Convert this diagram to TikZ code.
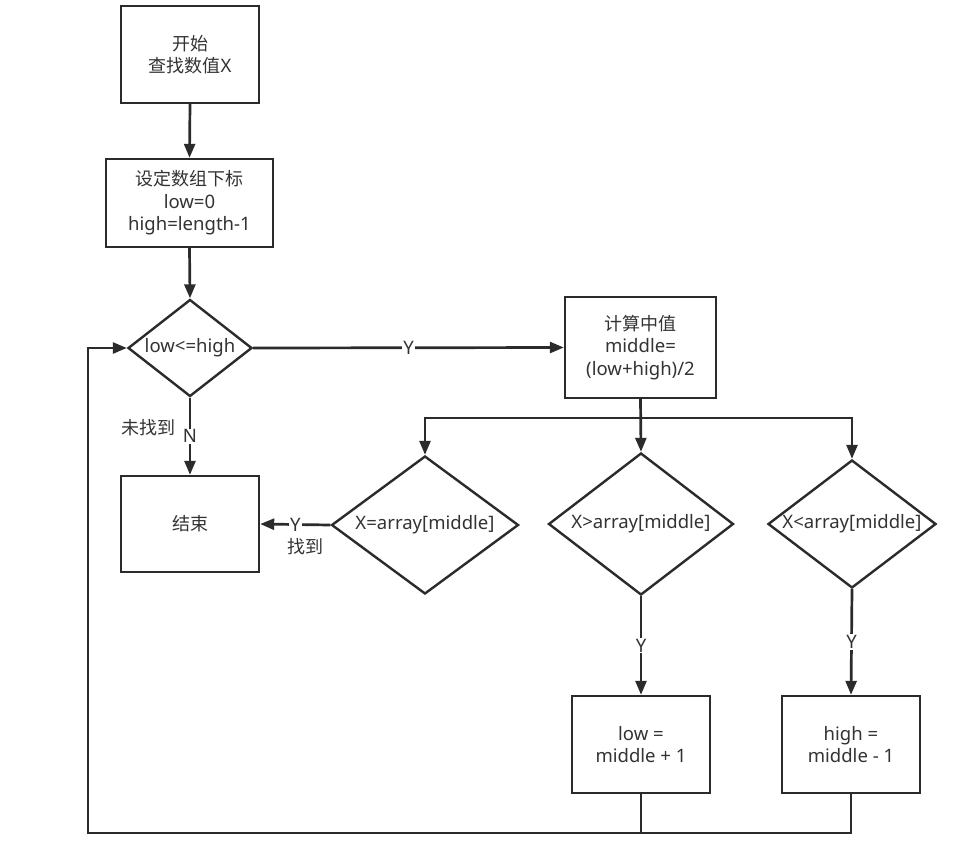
\documentclass[tikz,border=0pt]{standalone}
\usepackage{fontspec}
\setmainfont{Noto Sans}[Scale=1.03]
\newfontfamily\cjk{Noto Sans CJK SC}
\usetikzlibrary{shapes.geometric,arrows.meta}
\definecolor{ink}{HTML}{2B2B2B}
\definecolor{txt}{HTML}{333333}
\tikzset{
  fnt/.style={font=\fontsize{18}{22.5}\selectfont},
  cjkfnt/.style={font={\fontsize{18}{22.5}\selectfont\cjk}},
  box/.style={draw=ink,line width=2.4pt,fill=white,rectangle,inner sep=0pt,align=center,text=txt,fnt},
  dia/.style={draw=ink,line width=2.4pt,fill=white,diamond,inner sep=0pt,aspect=1,text=txt,fnt},
  conn/.style={draw=ink,line width=2.7pt},
  arr/.style={conn,-{Triangle[length=14pt,width=11pt]}},
  lab/.style={fill=white,text=txt,inner sep=1pt,fnt},
}
\begin{document}
\begin{tikzpicture}[x=1pt,y=-1pt]
\useasboundingbox (0,0) rectangle (979,857);
% nodes
\node[box,minimum width=138pt,minimum height=97pt] (start) at (190,54.5) {{\cjk 开始}\\{\cjk 查找数值}X};
\node[box,minimum width=167pt,minimum height=88pt] (set) at (189.5,203) {{\cjk 设定数组下标}\\low=0\\high=length-1};
\node[dia,minimum width=124pt,minimum height=97pt] (cond) at (190,348) {\makebox[0pt]{low<=high}};
\node[box,minimum width=151pt,minimum height=101pt] (calc) at (640.5,347.5) {{\cjk 计算中值}\\middle=\\(low+high)/2};
\node[box,minimum width=138pt,minimum height=96pt] (end) at (190,524) {{\cjk 结束}};
\node[dia,minimum width=187pt,minimum height=138pt] (eq) at (425,525) {\makebox[0pt]{X=array[middle]}};
\node[dia,minimum width=185pt,minimum height=142pt] (gt) at (641,524) {\makebox[0pt]{X>array[middle]}};
\node[dia,minimum width=168pt,minimum height=128pt] (lt) at (852,524) {\makebox[0pt]{X<array[middle]}};
\node[box,minimum width=138pt,minimum height=97pt] (lowbox) at (641,744.5) {low =\\middle + 1};
\node[box,minimum width=138pt,minimum height=97pt] (highbox) at (851,744.5) {high =\\middle - 1};
\coordinate (br) at (641,418);
\coordinate (bm) at (641,833);
\coordinate (bl) at (88,833);
% connectors
\draw[arr] (start.south) -- (set.north);
\draw[arr] (set.south) -- (cond.north);
\draw[arr] (cond.east) -- node[lab] (ylab1) {Y} (calc.west);
\draw[arr] (cond.south) -- node[lab] (nlab) {N} (end.north);
\node[text=txt,cjkfnt] (notfound) at (148,428) {未找到};
\draw[arr] (calc.south) -- (gt.north);
\draw[conn] (br) -- (425,418);
\draw[arr] (br) -| (eq.north);
\draw[arr] (br) -| (lt.north);
\draw[arr] (eq.west) -- node[lab] (ylab2) {Y} (end.east);
\node[text=txt,cjkfnt] (found) at (305,547) {找到};
\draw[arr] (gt.south) -- node[lab] (ylab3) {Y} (lowbox.north);
\draw[arr] (lt.south) -- node[lab] (ylab4) {Y} (highbox.north);
\draw[conn] (lowbox.south) -- (bm);
\draw[conn] (highbox.south) |- (bm);
\draw[arr] (bm) -- (bl) |- (cond.west);
\end{tikzpicture}
\end{document}
